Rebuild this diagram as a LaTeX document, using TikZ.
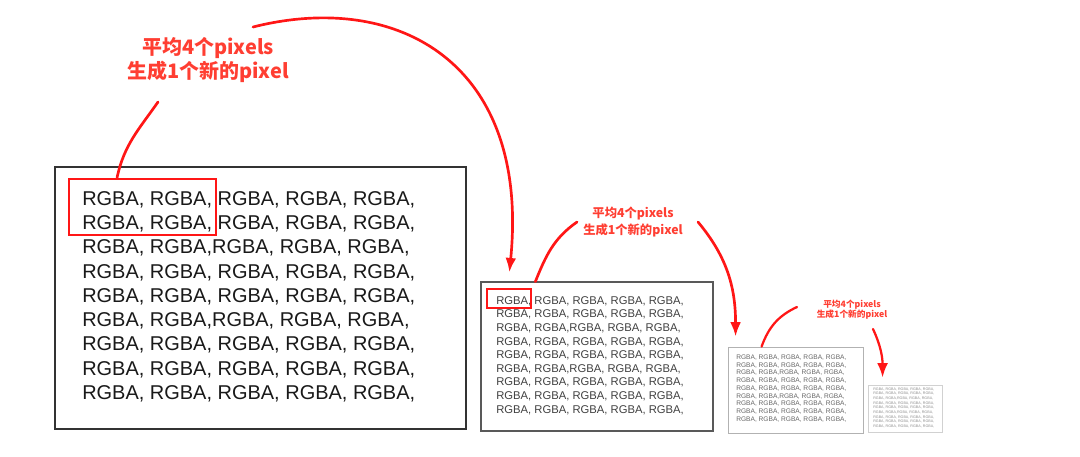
\documentclass[tikz,border=0pt]{standalone}
\usepackage{fontspec}
\usetikzlibrary{arrows.meta,calc,fit}
\newfontfamily\rgbafont{Liberation Sans}
\newfontfamily\cjkfont{Noto Sans CJK SC}
\definecolor{arrowred}{RGB}{255,22,22}
\definecolor{notered}{RGB}{255,62,50}
\newcommand{\rgbarow}{RGBA, RGBA, RGBA, RGBA, RGBA,}
\newcommand{\rgbajoin}{RGBA, RGBA,RGBA, RGBA, RGBA,}
\newcommand{\rgbagrid}{\rgbarow\\\rgbarow\\\rgbajoin\\\rgbarow\\\rgbarow\\\rgbajoin\\\rgbarow\\\rgbarow\\\rgbarow}
\newcommand{\notetext}{平均4个pixels\\生成1个新的pixel}
\tikzset{
  imgbox/.style={draw, rectangle, inner sep=0pt},
  pixgrid/.style={anchor=north west, inner sep=0pt, align=left},
  pickbox/.style={draw=arrowred, rectangle, inner sep=0pt, line width=1.9pt},
  note/.style={text=notered, align=center, inner sep=0pt},
  link/.style={arrowred, line width=1.9pt, line cap=round},
  flow/.style={link, -{Latex[length=0.36cm,width=0.27cm]}}
}
\begin{document}
\begin{tikzpicture}[x=0.025cm,y=-0.025cm]
  \useasboundingbox (0,0) rectangle (1080,456);
  \node[imgbox, draw=black!80, line width=1.4pt, fit={(55,167) (466,429)}] (big) {};
  \node[imgbox, draw=black!65, line width=0.9pt, fit={(481,282) (713,431)}] (mid) {};
  \node[imgbox, draw=black!30, line width=0.6pt, fit={(728,347) (863,433)}] (small) {};
  \node[imgbox, draw=black!18, line width=0.6pt, fit={(868,385) (942,432)}] (tiny) {};

  \node[pixgrid, text=black!90, font=\rgbafont\fontsize{14.2}{17.25}\selectfont] (grid1) at (82,191) {\rgbagrid};
  \node[pixgrid, text=black!75, font=\rgbafont\fontsize{8}{9.7}\selectfont] (grid2) at (496,296) {\rgbagrid};
  \node[pixgrid, text=black!60, font=\rgbafont\fontsize{4.7}{5.5}\selectfont] (grid3) at (736,354.5) {\rgbagrid};
  \node[pixgrid, text=black!45, font=\rgbafont\fontsize{2.6}{3.3}\selectfont] (grid4) at (873,387.5) {\rgbagrid};

  \node[pickbox, fit={(69,179) (216,235)}] (pick1) {};
  \node[pickbox, fit={(487,289) (531,308)}] (pick2) {};

  \node[note, font=\cjkfont\bfseries\fontsize{14.2}{17}\selectfont] (note1) at (208,60) {\notetext};
  \node[note, font=\cjkfont\bfseries\fontsize{8.75}{12}\selectfont] (note2) at (633,222) {\notetext};
  \node[note, font=\cjkfont\bfseries\fontsize{6.2}{7.1}\selectfont] (note3) at (852,310) {\notetext};

  \coordinate (tail1) at (158,102);
  \coordinate (arc1) at (253,27);
  \coordinate (tip1) at ($(mid.north west)+(29,-9)$);
  \coordinate (tail2) at ($(pick2.north east)+(3,-6)$);
  \coordinate (head2) at (577,222);
  \coordinate (arc2) at (698,222);
  \coordinate (tip2) at ($(small.north west)+(8,-10)$);
  \coordinate (tail3) at ($(small.north west)+(34,0)$);
  \coordinate (head3) at (797,307);
  \coordinate (arc3) at (873,329);
  \coordinate (tip3) at ($(tiny.north west)+(15,-7)$);

  \draw[link] (tail1) to[out=235,in=78] ($(pick1.north west)!0.33!(pick1.north east)$);
  \draw[flow] (arc1) .. controls (400,-10) and (530,65) .. (tip1);
  \draw[link] (tail2) to[out=68,in=215] (head2);
  \draw[flow] (arc2) to[out=-50,in=90] (tip2);
  \draw[link, line width=1.6pt] (tail3) to[out=70,in=205] (head3);
  \draw[flow, line width=1.6pt] (arc3) to[out=-65,in=90] (tip3);
\end{tikzpicture}
\end{document}
